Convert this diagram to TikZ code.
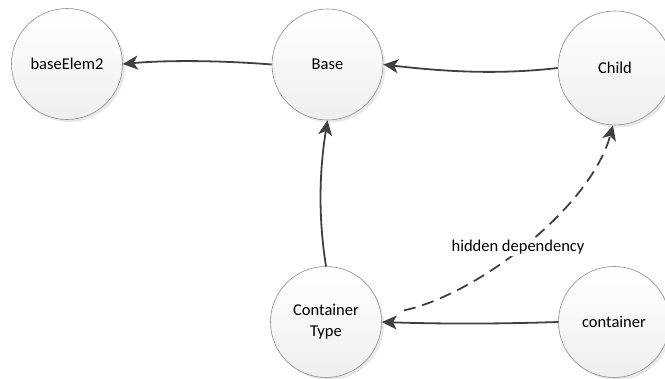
\documentclass[tikz,border=0pt]{standalone}
\usepackage{fontspec}
\setmainfont{Carlito}
\usetikzlibrary{arrows.meta,shadows}
\definecolor{edgegray}{HTML}{404040}
\definecolor{rimgray}{HTML}{8C8C8C}
\begin{document}
\begin{tikzpicture}[x=1pt,y=-1pt,
  entity/.style={circle, draw=rimgray, line width=0.6pt,
    top color=white, bottom color=gray!13,
    minimum size=111pt, inner sep=0pt, align=center,
    font=\fontsize{16.5}{21}\selectfont,
    drop shadow={shadow xshift=2.5pt, shadow yshift=-2.5pt, opacity=0.18}},
  dep/.style={draw=edgegray, line width=1.8pt,
    -{Stealth[length=15pt,width=14pt,inset=4pt]}},
  hidden/.style={dep, dash pattern=on 12pt off 7pt, dash phase=12pt,
    shorten <=16pt}]
  \useasboundingbox (0,0) rectangle (665,379);

  % entities
  \node[entity] (belem) at (67,64)    {baseElem2};
  \node[entity] (base)  at (327.5,64.5) {Base};
  \node[entity, minimum size=114pt] (child) at (615,68) {Child};
  \node[entity] (ctype) at (326,322)  {Container\\Type};
  \node[entity] (cont)  at (614,322)  {container};

  % hidden dependency (drawn first so the solid arrowhead sits on top)
  \draw[hidden] (ctype.8) .. controls (470,300) and (590,210) .. (child.-92);
  \node[fill=white, inner sep=1.5pt, font=\fontsize{16.5}{21}\selectfont]
    (lbl) at (518,247) {hidden dependency};

  % dependencies
  \draw[dep] (base.west)  .. controls +(-50,-4) and +(45,-4) .. (belem.east);
  \draw[dep] (child.west) .. controls +(-60,7)  and +(60,7)  .. (base.east);
  \draw[dep] (ctype.north) .. controls +(-8,-50) and +(-8,50) .. (base.south);
  \draw[dep] (cont.west)  .. controls +(-60,2)  and +(60,2)  .. (ctype.east);
\end{tikzpicture}
\end{document}
